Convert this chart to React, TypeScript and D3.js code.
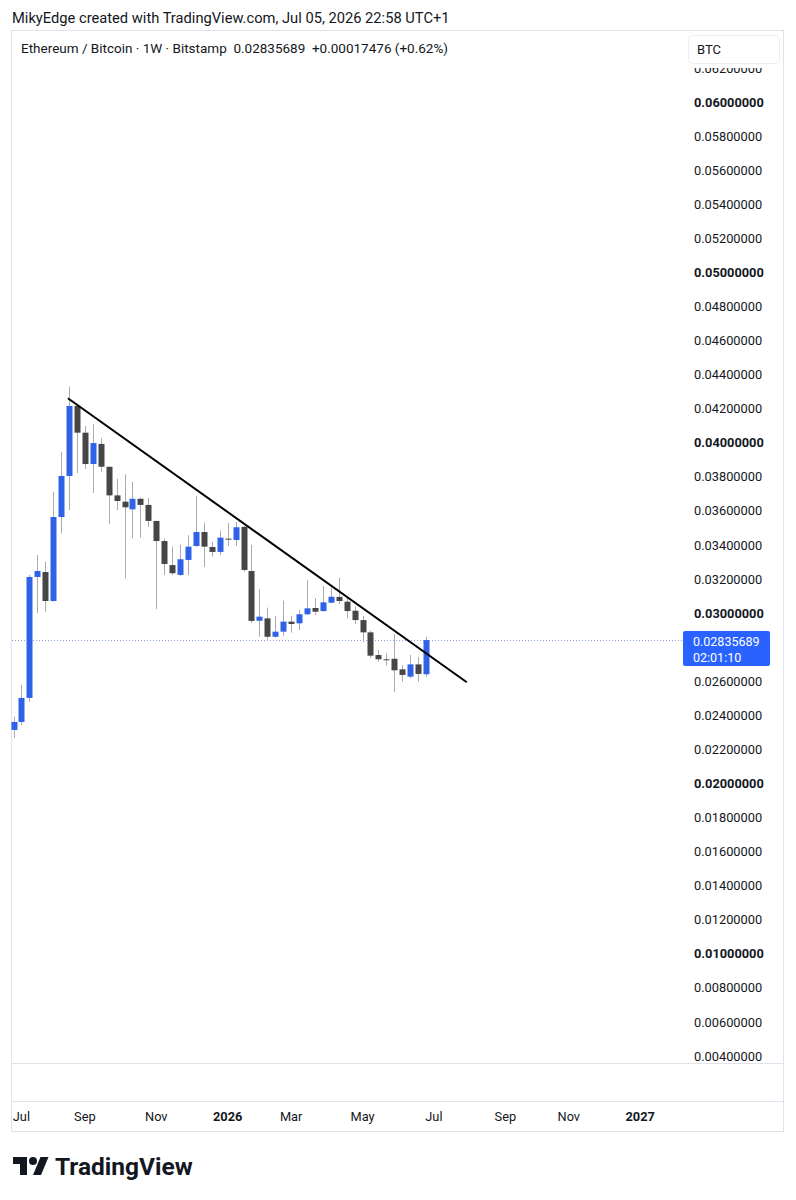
import React from "react";
import * as d3 from "d3";

const startWeek = "2025-06-30";
const opens = [0.02308,0.02355,0.02496,0.03206,0.03235,0.03065,0.03558,0.03799,0.04210,0.04053,0.03869,0.03987,0.03853,0.03685,0.03648,0.03603,0.03665,0.03629,0.03535,0.03417,0.03276,0.03218,0.03306,0.03388,0.03470,0.03382,0.03353,0.03431,0.03423,0.03500,0.03241,0.02949,0.02963,0.02855,0.02885,0.02944,0.02934,0.02987,0.03024,0.03006,0.03055,0.03089,0.03061,0.03008,0.02953,0.02881,0.02748,0.02723,0.02726,0.02664,0.02621,0.02693,0.02635];
const highs = [0.02386,0.02572,0.03218,0.03335,0.03296,0.03707,0.03941,0.04323,0.04215,0.04092,0.04104,0.04022,0.03853,0.03783,0.03809,0.03765,0.03671,0.03670,0.03535,0.03433,0.03384,0.03394,0.03452,0.03681,0.03525,0.03411,0.03478,0.03523,0.03529,0.03505,0.03394,0.03134,0.03026,0.02977,0.03067,0.02977,0.03012,0.03188,0.03081,0.03153,0.03145,0.03202,0.03090,0.03032,0.02977,0.02891,0.02777,0.02758,0.02870,0.02689,0.02748,0.02735,0.02855];
const lows = [0.02261,0.02337,0.02474,0.02995,0.03002,0.03061,0.03462,0.03599,0.03816,0.03840,0.03699,0.03824,0.03517,0.03599,0.03198,0.03433,0.03437,0.03501,0.03018,0.03218,0.03218,0.03212,0.03218,0.03384,0.03265,0.03325,0.03335,0.03388,0.03388,0.03237,0.02936,0.02855,0.02832,0.02850,0.02860,0.02879,0.02895,0.02983,0.02983,0.03002,0.03051,0.03047,0.02963,0.02930,0.02823,0.02729,0.02709,0.02685,0.02529,0.02591,0.02611,0.02591,0.02621];
const closes = [0.02355,0.02496,0.03206,0.03241,0.03065,0.03558,0.03799,0.04210,0.04053,0.03869,0.03992,0.03853,0.03685,0.03652,0.03615,0.03665,0.03629,0.03535,0.03417,0.03282,0.03228,0.03310,0.03384,0.03470,0.03384,0.03353,0.03437,0.03426,0.03498,0.03247,0.02948,0.02973,0.02855,0.02885,0.02944,0.02930,0.02987,0.03022,0.03002,0.03057,0.03090,0.03065,0.03006,0.02953,0.02881,0.02744,0.02723,0.02721,0.02658,0.02631,0.02693,0.02637,0.02835689];

const trendDates = ["2025-08-17", "2026-08-04"];
const trendPrices = [0.04255, 0.02588];

const priceTicks = d3.range(4, 63, 2).map((v) => v / 1000);
const boldPrices = [0.01, 0.02, 0.03, 0.04, 0.05, 0.06];
const timeLabels = ["Jul", "Sep", "Nov", "2026", "Mar", "May", "Jul", "Sep", "Nov", "2027"];
const timeLabelDates = ["2025-07-07", "2025-09-01", "2025-11-03", "2026-01-05", "2026-03-02", "2026-05-04", "2026-07-06", "2026-09-07", "2026-11-02", "2027-01-04"];
const boldTimeLabels = ["2026", "2027"];

const lastPrice = 0.02835689;
const headerText = "MikyEdge created with TradingView.com, Jul 05, 2026 22:58 UTC+1";
const legendText = "Ethereum / Bitcoin · 1W · Bitstamp  0.02835689  +0.00017476 (+0.62%)";
const countdown = "02:01:10";

const FONT = "Roboto, 'Noto Sans', sans-serif";
const UP = "#2f62e8";
const DOWN = "#464646";
const WICK = "#a9abb0";

const parse = (s: string) => new Date(s + "T00:00:00Z");

export default function App() {
  const x = d3.scaleUtc().domain([parse("2025-06-30"), parse("2026-06-29")]).range([13.5, 426]);
  const y = d3.scaleLinear().domain([0.004, 0.06]).range([1055, 101]);
  const start = parse(startWeek);
  const candles = opens.map((o, i) => ({
    date: d3.utcDay.offset(start, i * 7),
    o,
    h: highs[i],
    l: lows[i],
    c: closes[i],
  }));
  const bw = 6;
  const fmt = (v: number) => v.toFixed(8);
  const ly = y(lastPrice);
  const boxTop = ly - 9;
  const boxBot = ly + 26;
  const visibleTicks = priceTicks.filter((v) => y(v) + 7 < boxTop || y(v) - 7 > boxBot);

  return (
    <div style={{ position: "absolute", left: 0, top: 0 }}>
      <svg width={796} height={1200} style={{ display: "block", background: "#fff" }} fontFamily={FONT}>
        <defs>
          <clipPath id="axisClip">
            <rect x={686} y={68} width={98} height={995} />
          </clipPath>
        </defs>
        <rect x={0} y={0} width={796} height={1200} fill="#fff" />
        <text x={12} y={23} fontSize={14.7} fill="#131722">{headerText}</text>
        {/* frame */}
        <g stroke="#e0e3eb" strokeWidth={1} fill="none">
          <rect x={11.5} y={30.5} width={772} height={1101} />
          <line x1={11.5} x2={783.5} y1={1063.5} y2={1063.5} />
          <line x1={11.5} x2={783.5} y1={1101.5} y2={1101.5} />
        </g>
        <text x={21} y={53} fontSize={13.5} fill="#131722" style={{ whiteSpace: "pre" }} xmlSpace="preserve">{legendText}</text>
        {/* price axis labels */}
        <g clipPath="url(#axisClip)">
          {visibleTicks.map((v) => (
            <text key={v} x={694} y={y(v) + 1} dy="0.36em" fontSize={12.8}
              fontWeight={boldPrices.some((b) => Math.abs(b - v) < 1e-9) ? 700 : 400}
              fill="#131722">{fmt(v)}</text>
          ))}
        </g>
        {/* BTC box */}
        <rect x={688.5} y={35.5} width={91} height={28} rx={4} fill="#fff" stroke="#eceef2" />
        <text x={697} y={49.5} dy="0.36em" fontSize={13} fill="#131722">BTC</text>
        {/* last price dotted line */}
        <line x1={12} x2={683} y1={Math.round(ly) + 0.5} y2={Math.round(ly) + 0.5}
          stroke="#8a9fe0" strokeWidth={1} strokeDasharray="1 2" />
        {/* candles */}
        {candles.map((d, i) => {
          const cx = Math.round(x(d.date)) + 0.5;
          const up = d.c >= d.o;
          const top = y(Math.max(d.o, d.c));
          const bot = y(Math.min(d.o, d.c));
          return (
            <g key={i}>
              <line x1={cx} x2={cx} y1={y(d.h)} y2={y(d.l)} stroke={WICK} strokeWidth={1} />
              <rect x={cx - bw / 2} y={top} width={bw} height={Math.max(1, bot - top)} fill={up ? UP : DOWN} />
            </g>
          );
        })}
        {/* trend line */}
        <line x1={x(parse(trendDates[0]))} y1={y(trendPrices[0])} x2={x(parse(trendDates[1]))} y2={y(trendPrices[1])}
          stroke="#000" strokeWidth={2} />
        {/* last price label */}
        <rect x={683} y={boxTop} width={87} height={boxBot - boxTop} rx={2} fill="#2962ff" />
        <text x={693} y={ly + 1} dy="0.36em" fontSize={12.5} fill="#fff">{fmt(lastPrice)}</text>
        <text x={693} y={ly + 17} dy="0.36em" fontSize={12.5} fill="#fff">{countdown}</text>
        {/* time axis */}
        {timeLabels.map((t, i) => (
          <text key={i} x={x(parse(timeLabelDates[i]))} y={1116} dy="0.36em" textAnchor="middle" fontSize={12.8}
            fontWeight={boldTimeLabels.includes(t) ? 700 : 400} fill="#131722">{t}</text>
        ))}
        {/* logo */}
        <g transform="translate(13,1153)" fill="#131722">
          <path d="M14 22H7V11H0V4h14v18z" />
          <circle cx={20} cy={8} r={4} />
          <path d="M28 22h-8l7.5-18h8L28 22z" />
        </g>
        <text x={55} y={1166} dy="0.36em" fontSize={24.5} fontWeight={700} fill="#131722">TradingView</text>
      </svg>
    </div>
  );
}
